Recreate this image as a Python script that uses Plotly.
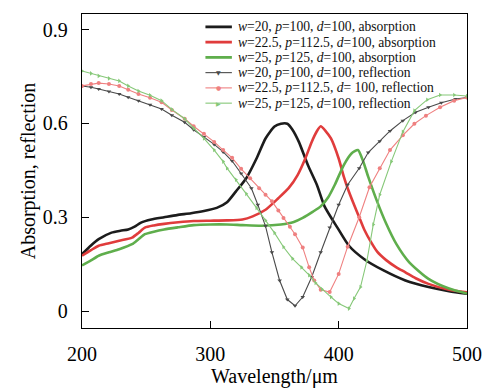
import plotly.graph_objects as go

# ---- data ----
wl_abs_black = [200, 207, 213, 223, 230, 236, 241, 246, 254, 264, 274, 285, 295, 305, 313, 320, 328, 336, 343,
                350, 355, 360, 364, 369, 376, 383, 389, 399, 408, 420, 435, 452, 470, 486, 500]
abs_black = [0.182, 0.21, 0.23, 0.251, 0.257, 0.261, 0.27, 0.283, 0.293, 0.300, 0.307, 0.313, 0.32, 0.33, 0.348,
             0.383, 0.425, 0.488, 0.552, 0.59, 0.599, 0.599, 0.58, 0.541, 0.467, 0.404, 0.335, 0.267, 0.209,
             0.166, 0.13, 0.098, 0.077, 0.064, 0.056]

wl_abs_red = [200, 207, 213, 221, 229, 239, 244, 249, 256, 264, 275, 287, 300, 313, 325, 333, 343, 353, 361, 368,
              374, 379, 383, 386, 390, 394, 400, 404, 407, 412, 416, 420, 425, 430, 437, 445, 452, 460, 470, 486, 500]
abs_red = [0.177, 0.195, 0.209, 0.217, 0.225, 0.235, 0.25, 0.267, 0.274, 0.279, 0.284, 0.288, 0.289, 0.29, 0.293,
           0.303, 0.324, 0.361, 0.393, 0.435, 0.488, 0.541, 0.575, 0.591, 0.575, 0.552, 0.488, 0.43, 0.393, 0.34,
           0.30, 0.26, 0.222, 0.19, 0.163, 0.14, 0.124, 0.105, 0.087, 0.068, 0.06]

wl_abs_green = [200, 207, 213, 221, 229, 239, 244, 249, 256, 264, 275, 287, 300, 313, 325, 340, 355, 365, 372, 380,
                386, 392, 397, 404, 410, 415, 419, 423, 430, 437, 445, 455, 470, 486, 500]
abs_green = [0.146, 0.162, 0.177, 0.188, 0.198, 0.214, 0.23, 0.246, 0.254, 0.261, 0.268, 0.275, 0.277, 0.277,
             0.275, 0.273, 0.277, 0.285, 0.298, 0.318, 0.335, 0.365, 0.404, 0.467, 0.504, 0.515, 0.48, 0.43, 0.35,
             0.28, 0.214, 0.156, 0.103, 0.072, 0.056]

wl_ref_black = [200, 207, 213, 221, 229, 236, 244, 253, 262, 270, 280, 287, 295, 303, 310, 317, 324, 332, 337, 343,
                348, 354, 360, 366, 372, 379, 386, 393, 400, 407, 416, 423, 432, 440, 450, 460, 470, 480, 491, 500]
ref_black = [0.72, 0.716, 0.71, 0.702, 0.694, 0.684, 0.673, 0.66, 0.646, 0.626, 0.604, 0.58, 0.557, 0.533, 0.509,
             0.48, 0.44, 0.393, 0.34, 0.272, 0.188, 0.098, 0.037, 0.017, 0.045, 0.109, 0.188, 0.267, 0.34, 0.404,
             0.457, 0.507, 0.543, 0.576, 0.609, 0.636, 0.652, 0.666, 0.678, 0.683]

wl_ref_red = [200, 207, 213, 221, 229, 236, 244, 253, 262, 270, 280, 287, 295, 303, 310, 317, 324, 331, 338, 343,
              348, 353, 357, 362, 366, 372, 377, 381, 386, 393, 400, 407, 416, 424, 432, 440, 450, 459, 468, 479,
              490, 500]
ref_red = [0.72, 0.726, 0.729, 0.726, 0.72, 0.708, 0.694, 0.682, 0.668, 0.643, 0.615, 0.591, 0.567, 0.541, 0.515,
           0.49, 0.455, 0.425, 0.393, 0.372, 0.351, 0.322, 0.298, 0.27, 0.246, 0.203, 0.14, 0.098, 0.068, 0.061,
           0.119, 0.206, 0.3, 0.396, 0.457, 0.515, 0.562, 0.599, 0.625, 0.652, 0.673, 0.683]

wl_ref_green = [200, 207, 213, 221, 229, 236, 244, 253, 262, 270, 280, 287, 295, 303, 310, 313, 320, 328, 336, 343,
                350, 357, 364, 371, 377, 382, 387, 394, 400, 408, 412, 417, 422, 427, 432, 441, 450, 459, 469, 479,
                490, 500]
ref_green = [0.768, 0.76, 0.752, 0.744, 0.736, 0.72, 0.704, 0.69, 0.673, 0.645, 0.615, 0.585, 0.552, 0.515, 0.478,
             0.457, 0.42, 0.375, 0.33, 0.29, 0.25, 0.205, 0.168, 0.14, 0.115, 0.09, 0.07, 0.045, 0.024, 0.008,
             0.04, 0.077, 0.161, 0.277, 0.372, 0.478, 0.573, 0.641, 0.676, 0.691, 0.691, 0.688]

names = [
    "<i>w</i>=20, <i>p</i>=100, <i>d</i>=100, absorption",
    "<i>w</i>=22.5, <i>p</i>=112.5, <i>d</i>=100, absorption",
    "<i>w</i>=25, <i>p</i>=125, <i>d</i>=100, absorption",
    "<i>w</i>=20, <i>p</i>=100, <i>d</i>=100, reflection",
    "<i>w</i>=22.5, <i>p</i>=112.5, <i>d</i>= 100, reflection",
    "<i>w</i>=25, <i>p</i>=125, <i>d</i>=100, reflection",
]

x_ticks = [200, 300, 400, 500]
y_ticks = [0, 0.3, 0.6, 0.9]
y_tick_text = ["0", "0.3", "0.6", "0.9"]

FONT = "Liberation Serif, Times New Roman, serif"

# layout geometry (pixels)
W, H = 494, 391
ML, MR, MT, MB = 82, 19, 14, 60
PW, PH = W - ML - MR, H - MT - MB

def px_to_paper_x(px):
    return (px - ML) / PW

def py_to_paper_y(py):
    return (H - MB - py) / PH

colors_abs = ["#1c1c1c", "#e03c3c", "#5fae4c"]
colors_ref = ["#4a4a4a", "#ef8080", "#86c878"]
symbols_ref = ["triangle-down", "circle", "triangle-right"]
legend_glyph = ["▼", "●", "▶"]

fig = go.Figure()
abs_sets = [(wl_abs_black, abs_black), (wl_abs_red, abs_red), (wl_abs_green, abs_green)]
for i, (x, y) in enumerate(abs_sets):
    fig.add_trace(go.Scatter(x=x, y=y, mode="lines", name=names[i], showlegend=False,
                             line=dict(color=colors_abs[i], width=2.6, shape="spline", smoothing=0.6)))

ref_sets = [(wl_ref_black, ref_black), (wl_ref_red, ref_red), (wl_ref_green, ref_green)]
for i, (x, y) in enumerate(ref_sets):
    fig.add_trace(go.Scatter(x=x, y=y, mode="lines+markers", name=names[3 + i], showlegend=False,
                             line=dict(color=colors_ref[i], width=1.1),
                             marker=dict(color=colors_ref[i], size=4, symbol=symbols_ref[i])))

# compact legend (rows 15.4 px apart, like the reference)
row0, row_gap = 27, 15.4
line_x0, line_x1, text_x = 208, 235, 239
for i, name in enumerate(names):
    py = row0 + row_gap * i
    yy = py_to_paper_y(py)
    if i < 3:
        col, wid = colors_abs[i], 2.8
    else:
        col, wid = colors_ref[i - 3], 1.1
    fig.add_shape(type="line", xref="paper", yref="paper",
                  x0=px_to_paper_x(line_x0), x1=px_to_paper_x(line_x1), y0=yy, y1=yy,
                  line=dict(color=col, width=wid))
    if i >= 3:
        fig.add_annotation(xref="paper", yref="paper", x=px_to_paper_x((line_x0 + line_x1) / 2), y=yy,
                           text=legend_glyph[i - 3], showarrow=False, xanchor="center", yanchor="middle",
                           font=dict(size=6, color=col, family="DejaVu Sans"))
    fig.add_annotation(xref="paper", yref="paper", x=px_to_paper_x(text_x), y=yy, text=name,
                       showarrow=False, xanchor="left", yanchor="middle",
                       font=dict(size=13.6, family=FONT, color="#111"))

fig.update_layout(
    width=W, height=H,
    margin=dict(l=ML, r=MR, t=MT, b=MB),
    paper_bgcolor="white", plot_bgcolor="white",
    font=dict(family=FONT, color="black", size=20),
    showlegend=False,
)
fig.update_xaxes(range=[200, 500], tickvals=x_ticks, ticks="inside", ticklen=7, tickcolor="black",
                 showline=True, linecolor="black", linewidth=1.3, mirror=True, showgrid=False, zeroline=False,
                 ticklabelstandoff=8,
                 title=dict(text="Wavelength/μm", standoff=0, font=dict(size=20)),
                 tickfont=dict(size=20))
fig.update_yaxes(range=[-0.054, 0.95], tickvals=y_ticks, ticktext=y_tick_text, ticks="inside", ticklen=7,
                 tickcolor="black", showline=True, linecolor="black", linewidth=1.3, mirror=True,
                 showgrid=False, zeroline=False, ticklabelstandoff=9,
                 title=dict(text="Absorption, reflection", standoff=1, font=dict(size=20)),
                 tickfont=dict(size=20))

fig.write_html("out.html")
